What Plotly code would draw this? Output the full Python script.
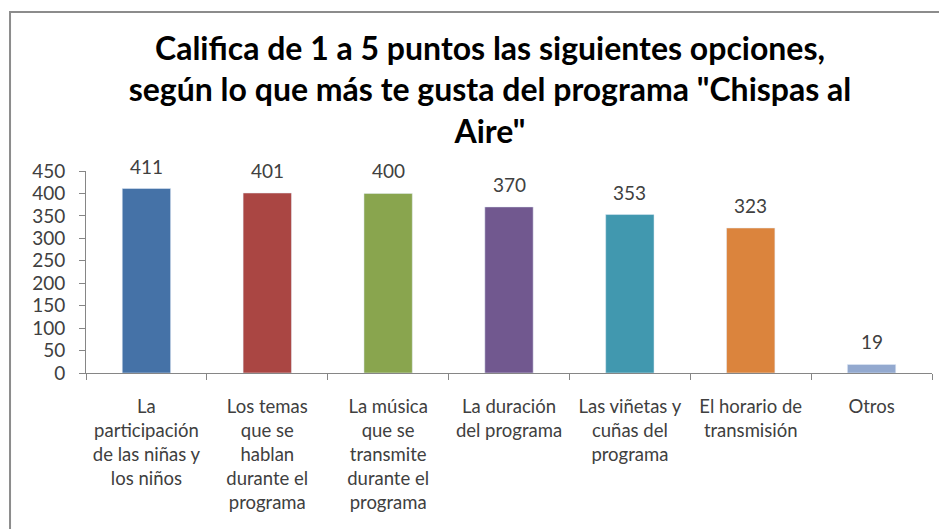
import plotly.graph_objects as go

categorias = [
    "La<br>participación<br>de las niñas y<br>los niños",
    "Los temas<br>que se<br>hablan<br>durante el<br>programa",
    "La música<br>que se<br>transmite<br>durante el<br>programa",
    "La duración<br>del programa",
    "Las viñetas y<br>cuñas del<br>programa",
    "El horario de<br>transmisión",
    "Otros",
]
puntos = [411, 401, 400, 370, 353, 323, 19]
colores = ["#4572A7", "#AA4643", "#89A54E", "#71588F", "#4198AF", "#DB843D", "#93A9CF"]

fig = go.Figure(go.Bar(
    x=categorias, y=puntos,
    marker_color=colores,
    width=0.4,
    cliponaxis=False,
))

# etiquetas de valor sobre las barras
etiquetas = [dict(x=c, y=v, text=str(v), showarrow=False, yanchor="bottom", yshift=9,
                  font=dict(family="Lato", size=19, color="#404040"))
             for c, v in zip(categorias, puntos)]

fig.update_layout(
    width=947, height=529,
    margin=dict(l=78, r=23, t=163, b=164),
    paper_bgcolor="white", plot_bgcolor="white",
    showlegend=False,
    title=dict(
        text="Califica de 1 a 5 puntos las siguientes opciones,<br>según lo que más te gusta del programa \"Chispas al<br>Aire\"",
        x=0.509, xanchor="center", y=0.902, yanchor="top",
        font=dict(family="Lato", size=32, color="black", weight="bold"),
    ),
    font=dict(family="Lato", size=18, color="#404040"),
    annotations=etiquetas,
    shapes=[dict(type="rect", xref="paper", yref="paper",
                 x0=-0.0898, x1=1.2, y0=-1.0, y1=1.787,
                 line=dict(color="#8c8c8c", width=2))],
)

fig.update_yaxes(
    range=[0, 450], dtick=50, showgrid=False, automargin=False,
    showline=True, linecolor="#868686", ticks="outside", ticklen=6, tickcolor="#868686",
    ticklabelstandoff=10,
    tickfont=dict(family="Lato", size=19, color="#404040"),
)
fig.update_xaxes(
    showline=True, linecolor="#868686", ticks="outside", ticklen=6, tickcolor="#868686",
    tickson="boundaries", tickangle=0, automargin=False, ticklabelstandoff=17,
    tickfont=dict(family="Lato", size=18.5, color="#404040"),
)

fig.write_html("out.html")
